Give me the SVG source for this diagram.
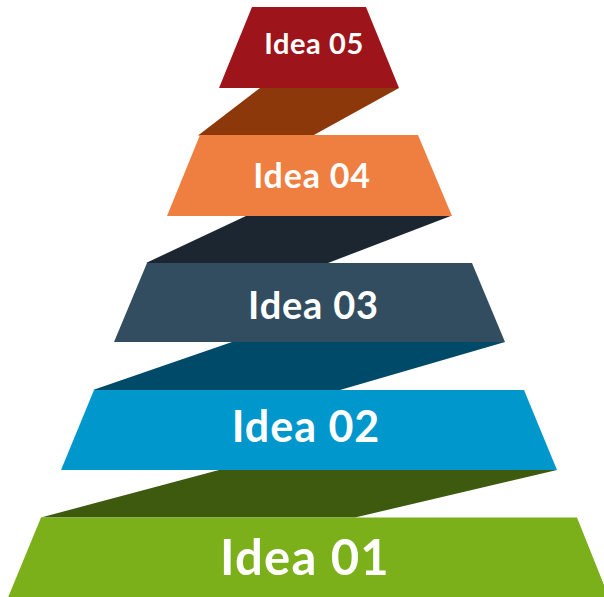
<svg xmlns="http://www.w3.org/2000/svg" width="604" height="597" viewBox="0 0 604 597">
<style>
.lbl{font-family:Lato,"Liberation Sans",sans-serif;font-weight:bold;fill:#ffffff;text-anchor:middle}
</style>
<rect width="604" height="597" fill="#ffffff"/>
<g id="connectors">
<polygon points="260,88 399,88 313,135.5 198,135.5" fill="#8C380B"/>
<polygon points="247,215.5 452,215.5 328,263 146,263" fill="#1B2630"/>
<polygon points="232,342 505,342 340,390 93,390" fill="#004A69"/>
<polygon points="219,470 557,470 355,517.5 41,517.5" fill="#3E5A0F"/>
</g>
<g id="idea05">
<polygon points="252,7 366,7 399,88 219,88" fill="#9D141B"/>
<text class="lbl" x="314" y="53.5" font-size="29" letter-spacing="0.6">Idea 05</text>
</g>
<g id="idea04">
<polygon points="200,135 418,135 452,216 167,216" fill="#EF7E41"/>
<text class="lbl" x="312" y="188" font-size="34" letter-spacing="0.8">Idea 04</text>
</g>
<g id="idea03">
<polygon points="147,263 472,263 505,342 114,342" fill="#324D5F"/>
<text class="lbl" x="313.5" y="318.5" font-size="38" letter-spacing="0.8">Idea 03</text>
</g>
<g id="idea02">
<polygon points="94,390 524,390 557,470 61,470" fill="#0097CD"/>
<text class="lbl" x="306" y="442" font-size="43" letter-spacing="1">Idea 02</text>
</g>
<g id="idea01">
<polygon points="41,517.5 577,517.5 610,600 7,600" fill="#7BB01B"/>
<text class="lbl" x="305" y="575" font-size="49" letter-spacing="1.2">Idea 01</text>
</g>
</svg>
